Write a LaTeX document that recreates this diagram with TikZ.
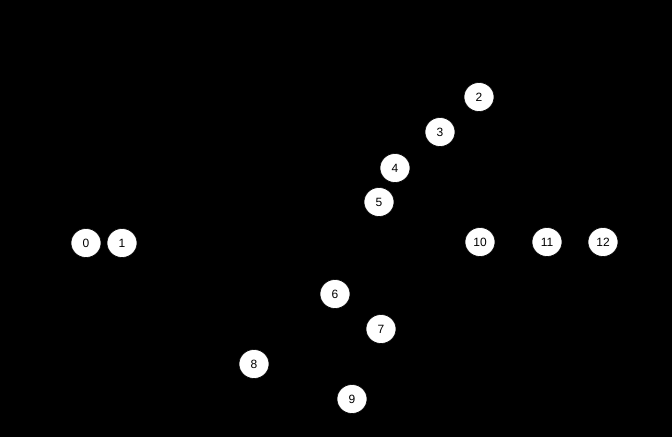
\documentclass[tikz,border=0pt]{standalone}
\usepackage{fontspec}
\setmainfont{Liberation Sans}
\usetikzlibrary{shapes.geometric}
\begin{document}
\begin{tikzpicture}[x=1pt,y=-1pt,
  vtx/.style={ellipse,fill=white,draw=black,line width=0.6pt,minimum width=30pt,minimum height=29pt,inner sep=0pt,font=\fontsize{12}{14}\selectfont}]
\fill[black] (0,0) rectangle (672,437);
\useasboundingbox (0,0) rectangle (672,437);
\node[vtx] (n0) at (86,243) {0};
\node[vtx] (n1) at (122,243) {1};
\node[vtx] (n2) at (479,97) {2};
\node[vtx] (n3) at (440,132) {3};
\node[vtx] (n4) at (395,168) {4};
\node[vtx] (n5) at (379,202) {5};
\node[vtx] (n6) at (335,294) {6};
\node[vtx] (n7) at (381,329) {7};
\node[vtx] (n8) at (254,364) {8};
\node[vtx] (n9) at (352,399) {9};
\node[vtx] (n10) at (480,242) {10};
\node[vtx] (n11) at (547,242) {11};
\node[vtx] (n12) at (603,242) {12};
\end{tikzpicture}
\end{document}
